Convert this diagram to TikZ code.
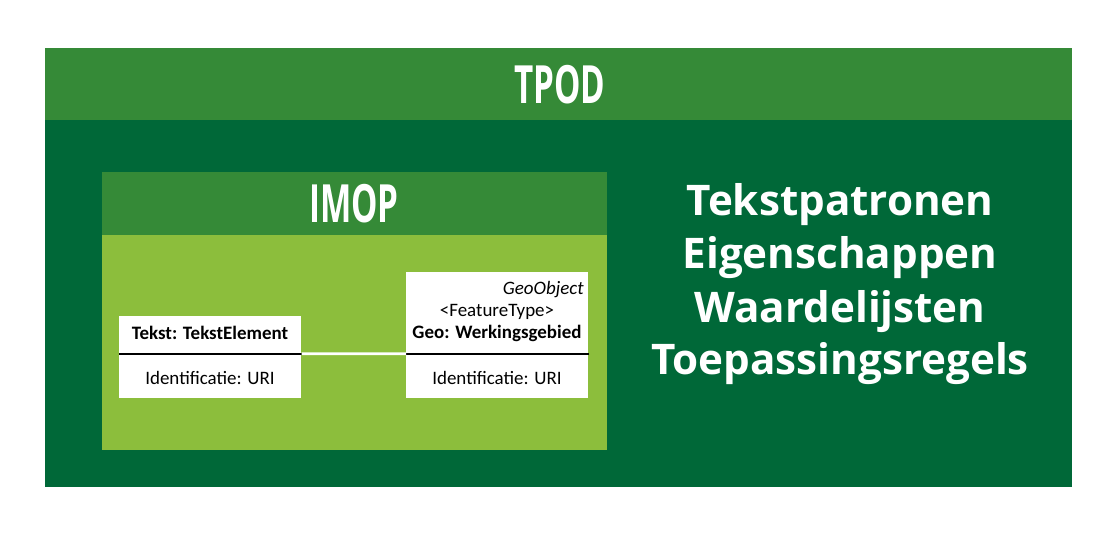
\documentclass[tikz,border=0pt]{standalone}
\usepackage{fontspec}
\setmainfont{Carlito}
\newfontfamily\kopfont[FakeStretch=0.63]{Open Sans}
\newfontfamily\lijstfont{Open Sans}
\usetikzlibrary{positioning}
\definecolor{tpodgroen}{HTML}{006838}
\definecolor{kopgroen}{HTML}{358A37}
\definecolor{imopgroen}{HTML}{8CBE3C}
\tikzset{
  kopband/.style={fill=kopgroen, draw=none},
  kop/.style={text=white, font=\kopfont\bfseries\fontsize{30}{31}\selectfont, inner sep=0pt},
  klassevak/.style={fill=white, draw=none, inner sep=0pt, anchor=north west, minimum width=3.64cm},
  klassetekst/.style={font=\fontsize{10.8}{12}\selectfont, inner sep=0pt},
  lijst/.style={text=white, font=\lijstfont\bfseries\fontsize{24}{28}\selectfont, inner sep=0pt}
}

\begin{document}
\begin{tikzpicture}[x=0.02cm, y=-0.02cm]
	\useasboundingbox (0,0) rectangle (1117,535);
	% TPOD
	\fill [tpodgroen] (45,48) rectangle (1072,487);
	\fill [kopband] (45,48) rectangle (1072,120);
	\node [kop] (tpod) at (560,85) {TPOD};

	% IMOP
	\fill [imopgroen] (102,172) rectangle (607,450);
	\fill [kopband] (102,172) rectangle (607,235);
	\node [kop] (imop) at (354,204) {IMOP};

	% klassen
	\node [klassevak, minimum height=0.74cm] (tekstkop) at (119,316) {};
	\node [klassevak, minimum height=0.9cm] (tekstattr) at (119,353) {};
	\node [klassetekst, font=\bfseries\fontsize{10.8}{12}\selectfont] (teksttitel) at (210,333) {Tekst: TekstElement};
	\node [klassetekst] (tekstid) at (210,378) {Identificatie: URI};

	\node [klassevak, minimum height=1.62cm] (geokop) at (406,272) {};
	\node [klassevak, minimum height=0.9cm] (geoattr) at (406,353) {};
	\node [klassetekst, font=\itshape\fontsize{10.8}{12}\selectfont, anchor=east] (geotype) at (584,290) {GeoObject};
	\node [klassetekst] (stereotype) at (497,312) {<FeatureType>};
	\node [klassetekst, font=\bfseries\fontsize{10.8}{12}\selectfont] (geotitel) at (497,333) {Geo: Werkingsgebied};
	\node [klassetekst] (geoid) at (497,378) {Identificatie: URI};

	\draw [line width=1.2pt] (tekstkop.south west) -- (tekstkop.south east);
	\draw [line width=1.2pt] (geokop.south west) -- (geokop.south east);
	\draw [white, line width=1.6pt] (tekstkop.south east) -- (geokop.south west);

	% lijst rechts
	\node [lijst] (patronen) at (840,205) {Tekstpatronen};
	\node [lijst] (eigenschappen) at (840,258) {Eigenschappen};
	\node [lijst] (waardelijsten) at (840,312) {Waardelijsten};
	\node [lijst] (regels) at (840,364) {Toepassingsregels};
\end{tikzpicture}
\end{document}
